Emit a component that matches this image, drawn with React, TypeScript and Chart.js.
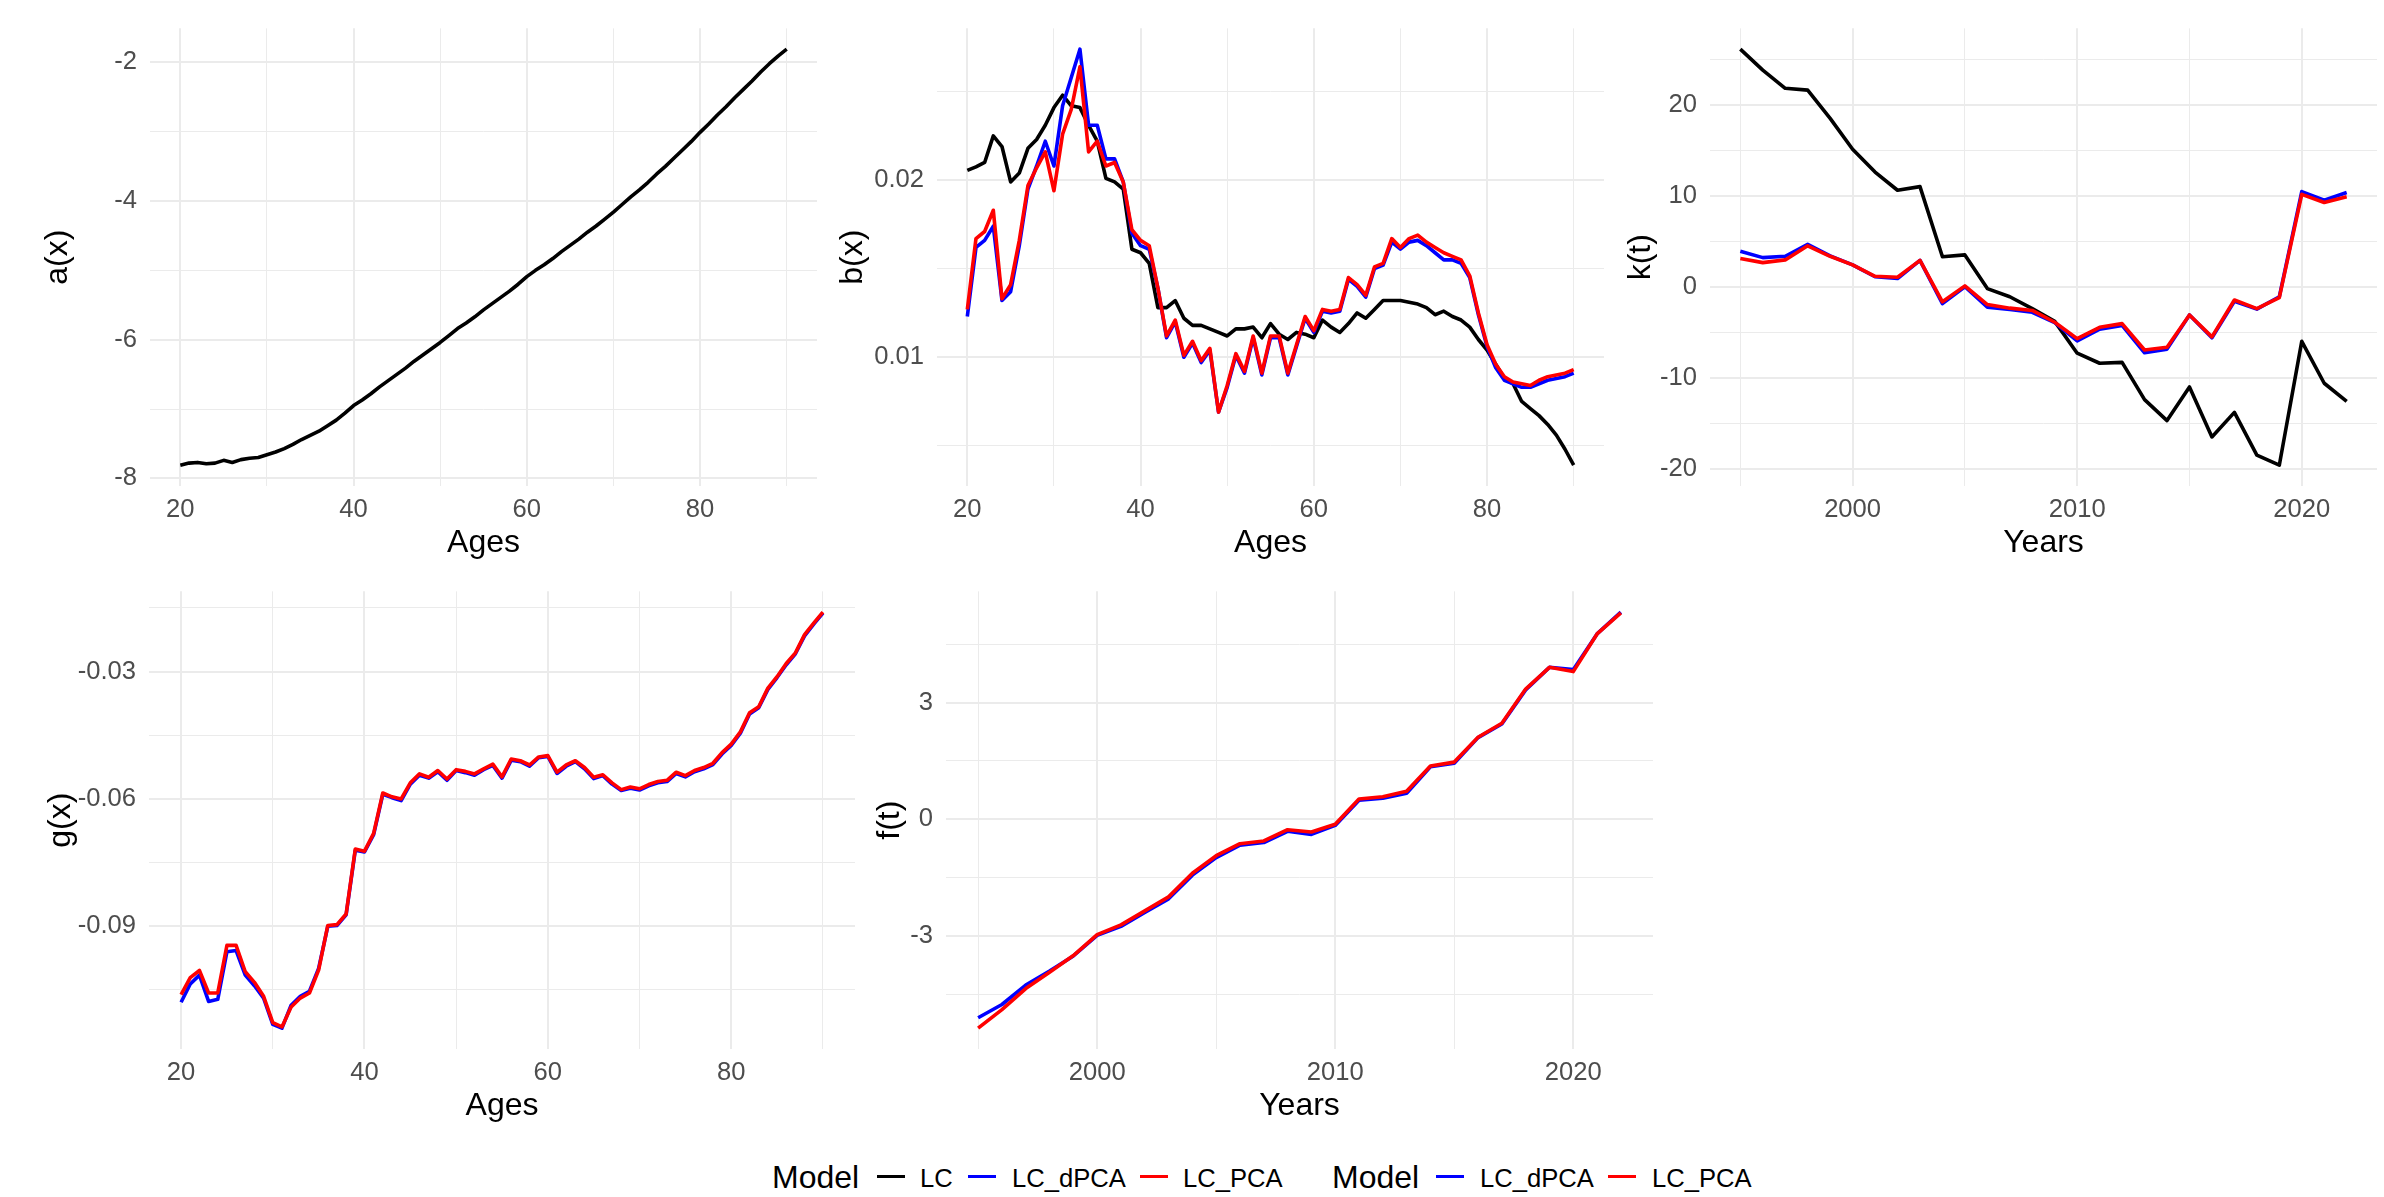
import React, { useEffect, useRef } from "react";
import { Chart, registerables } from "chart.js";
Chart.register(...registerables);

const FONT = '"Liberation Sans", Arial, Helvetica, sans-serif';
const TICK_COLOR = "#4D4D4D";
const GRID_COLOR = "#EBEBEB";

// ---------- categories ----------
const AGES = [20, 21, 22, 23, 24, 25, 26, 27, 28, 29, 30, 31, 32, 33, 34, 35, 36, 37, 38, 39, 40, 41, 42, 43, 44, 45, 46, 47, 48, 49, 50, 51, 52, 53, 54, 55, 56, 57, 58, 59, 60, 61, 62, 63, 64, 65, 66, 67, 68, 69, 70, 71, 72, 73, 74, 75, 76, 77, 78, 79, 80, 81, 82, 83, 84, 85, 86, 87, 88, 89, 90];
const YEARS = [1995, 1996, 1997, 1998, 1999, 2000, 2001, 2002, 2003, 2004, 2005, 2006, 2007, 2008, 2009, 2010, 2011, 2012, 2013, 2014, 2015, 2016, 2017, 2018, 2019, 2020, 2021, 2022];

// ---------- series ----------
const A_LC = [-7.81, -7.78, -7.77, -7.79, -7.78, -7.74, -7.77, -7.73, -7.71, -7.70, -7.66, -7.62, -7.57, -7.51, -7.44, -7.38, -7.32, -7.24, -7.16, -7.06, -6.95, -6.87, -6.78, -6.68, -6.59, -6.50, -6.41, -6.31, -6.22, -6.13, -6.04, -5.94, -5.84, -5.76, -5.67, -5.57, -5.48, -5.39, -5.30, -5.20, -5.09, -5.00, -4.92, -4.83, -4.73, -4.64, -4.55, -4.45, -4.36, -4.26, -4.16, -4.05, -3.94, -3.84, -3.73, -3.61, -3.50, -3.38, -3.26, -3.14, -3.01, -2.89, -2.76, -2.64, -2.51, -2.39, -2.27, -2.14, -2.02, -1.91, -1.81];

const B_LC = [0.02055, 0.02075, 0.0210, 0.0225, 0.0219, 0.0199, 0.0204, 0.0218, 0.0223, 0.0231,
  0.0241, 0.0248, 0.0242, 0.0241, 0.0231, 0.0222, 0.0201, 0.0199, 0.0195, 0.0161,
  0.0159, 0.0153, 0.0128, 0.0128, 0.0132, 0.0122, 0.0118, 0.0118, 0.0116, 0.0114,
  0.0112, 0.0116, 0.0116, 0.0117, 0.0111, 0.0119, 0.0113, 0.0110, 0.0114, 0.0113,
  0.0111, 0.0121, 0.0117, 0.0114, 0.0119, 0.0125, 0.0122, 0.0127, 0.0132, 0.0132,
  0.0132, 0.0131, 0.0130, 0.0128, 0.0124, 0.0126, 0.0123, 0.0121, 0.0117, 0.0110,
  0.0104, 0.0096, 0.0088, 0.0085, 0.0075, 0.0071, 0.0067, 0.0062, 0.0056, 0.0048, 0.0039];
const B_DPCA = [0.0123, 0.0162, 0.0166, 0.0174, 0.0132, 0.0137, 0.0163, 0.0195, 0.0208, 0.0222,
  0.0208, 0.0242, 0.0258, 0.0274, 0.0231, 0.0231, 0.0212, 0.0212, 0.0199, 0.0170,
  0.0163, 0.0161, 0.0139, 0.0111, 0.0120, 0.0100, 0.0108, 0.0097, 0.0104, 0.0069,
  0.0083, 0.0101, 0.0091, 0.0111, 0.0090, 0.0111, 0.0111, 0.0090, 0.0106, 0.0122,
  0.0114, 0.0126, 0.0125, 0.0126, 0.0144, 0.0140, 0.0134, 0.0150, 0.0152, 0.0165,
  0.0161, 0.0165, 0.0166, 0.0163, 0.0159, 0.0155, 0.0155, 0.0153, 0.0145, 0.0124,
  0.0106, 0.0094, 0.0087, 0.0085, 0.0083, 0.0083, 0.0085, 0.0087, 0.0088, 0.0089, 0.0091];
const B_PCA = [0.0127, 0.0167, 0.0171, 0.0183, 0.0133, 0.0141, 0.0166, 0.0197, 0.0207, 0.0216,
  0.0194, 0.0226, 0.0240, 0.0264, 0.0216, 0.0222, 0.0208, 0.0210, 0.0199, 0.0172,
  0.0166, 0.0163, 0.0139, 0.0112, 0.0121, 0.0101, 0.0109, 0.0098, 0.0105, 0.0069,
  0.0084, 0.0102, 0.0092, 0.0112, 0.0091, 0.0112, 0.0112, 0.0091, 0.0107, 0.0123,
  0.0115, 0.0127, 0.0126, 0.0127, 0.0145, 0.0141, 0.0135, 0.0151, 0.0153, 0.0167,
  0.0162, 0.0167, 0.0169, 0.0165, 0.0162, 0.0159, 0.0157, 0.0155, 0.0146, 0.0125,
  0.0107, 0.0096, 0.0089, 0.0086, 0.0085, 0.0084, 0.0087, 0.0089, 0.0090, 0.0091, 0.0093];

const K_LC = [26.1, 23.8, 21.8, 21.6, 18.5, 15.1, 12.6, 10.6, 11.0, 3.3, 3.5, -0.2, -1.1, -2.4, -3.8, -7.3, -8.4, -8.3, -12.4, -14.7, -11.0, -16.5, -13.8, -18.5, -19.6, -6.0, -10.6, -12.6];
const K_DPCA = [3.9, 3.2, 3.35, 4.65, 3.4, 2.4, 1.1, 0.9, 2.9, -1.85, 0.0, -2.25, -2.5, -2.8, -3.95, -5.95, -4.65, -4.25, -7.25, -6.85, -3.1, -5.6, -1.6, -2.45, -1.1, 10.45, 9.5, 10.35];
const K_PCA = [3.1, 2.65, 2.95, 4.5, 3.35, 2.4, 1.15, 1.05, 2.9, -1.65, 0.1, -1.95, -2.35, -2.6, -3.9, -5.7, -4.45, -4.05, -6.95, -6.65, -3.1, -5.5, -1.45, -2.4, -1.2, 10.15, 9.25, 9.9];

const G_DPCA = [-0.1079, -0.1036, -0.1015, -0.1077, -0.1072, -0.0960, -0.0957, -0.1015, -0.1040, -0.1069,
  -0.1131, -0.1140, -0.1086, -0.1065, -0.1053, -0.0999, -0.0900, -0.0898, -0.0873, -0.0721,
  -0.0725, -0.0684, -0.0589, -0.0597, -0.0604, -0.0565, -0.0544, -0.0551, -0.0536, -0.0556,
  -0.0533, -0.0538, -0.0544, -0.0531, -0.0521, -0.0551, -0.0509, -0.0512, -0.0523, -0.0503,
  -0.0500, -0.0540, -0.0523, -0.0512, -0.0529, -0.0552, -0.0545, -0.0565, -0.0580, -0.0575,
  -0.0579, -0.0569, -0.0562, -0.0559, -0.0540, -0.0548, -0.0536, -0.0529, -0.0519, -0.0494,
  -0.0474, -0.0445, -0.0400, -0.0385, -0.0342, -0.0314, -0.0284, -0.0258, -0.0216, -0.0188, -0.0162];
const G_PCA = [-0.1061, -0.1021, -0.1004, -0.1057, -0.1057, -0.0945, -0.0945, -0.1007, -0.1032, -0.1065,
  -0.1127, -0.1137, -0.1090, -0.1069, -0.1057, -0.1003, -0.0898, -0.0896, -0.0871, -0.0718,
  -0.0723, -0.0681, -0.0586, -0.0595, -0.0600, -0.0562, -0.0541, -0.0549, -0.0533, -0.0553,
  -0.0531, -0.0535, -0.0541, -0.0529, -0.0518, -0.0548, -0.0506, -0.0510, -0.0520, -0.0501,
  -0.0498, -0.0537, -0.0520, -0.0510, -0.0526, -0.0549, -0.0543, -0.0562, -0.0578, -0.0572,
  -0.0576, -0.0566, -0.0559, -0.0556, -0.0537, -0.0545, -0.0533, -0.0526, -0.0516, -0.0491,
  -0.0471, -0.0442, -0.0397, -0.0383, -0.0339, -0.0312, -0.0281, -0.0256, -0.0213, -0.0186, -0.0160];

const F_DPCA = [-5.11, -4.77, -4.27, -3.91, -3.52, -2.99, -2.76, -2.40, -2.05, -1.44, -0.99, -0.67, -0.60, -0.31, -0.39, -0.16, 0.49, 0.54, 0.67, 1.35, 1.44, 2.10, 2.45, 3.33, 3.91, 3.85, 4.77, 5.33];
const F_PCA = [-5.38, -4.90, -4.36, -3.94, -3.51, -2.97, -2.72, -2.36, -2.00, -1.39, -0.94, -0.63, -0.56, -0.27, -0.33, -0.13, 0.52, 0.58, 0.72, 1.37, 1.47, 2.11, 2.47, 3.35, 3.91, 3.80, 4.77, 5.31];

// ---------- ticks ----------
const AGE_MAJOR = [20, 40, 60, 80];
const AGE_MINOR = [30, 50, 70, 90];
const AGE_LABELS = ["20", "40", "60", "80"];
const YEAR_MAJOR = [2000, 2010, 2020];
const YEAR_MINOR = [1995, 2005, 2015];
const YEAR_LABELS = ["2000", "2010", "2020"];
const A_MAJOR = [-8, -6, -4, -2];
const A_MINOR = [-7, -5, -3];
const A_LABELS = ["-8", "-6", "-4", "-2"];
const B_MAJOR = [0.01, 0.02];
const B_MINOR = [0.005, 0.015, 0.025];
const B_LABELS = ["0.01", "0.02"];
const K_MAJOR = [-20, -10, 0, 10, 20];
const K_MINOR = [-15, -5, 5, 15, 25];
const K_LABELS = ["-20", "-10", "0", "10", "20"];
const G_MAJOR = [-0.09, -0.06, -0.03];
const G_MINOR = [-0.105, -0.075, -0.045, -0.015];
const G_LABELS = ["-0.09", "-0.06", "-0.03"];
const F_MAJOR = [-3, 0, 3];
const F_MINOR = [-4.5, -1.5, 1.5, 4.5];
const F_LABELS = ["-3", "0", "3"];

const C_LC = "#000000";
const C_DPCA = "#0000FF";
const C_PCA = "#FF0000";

type Series = { label: string; color: string; values: number[] };
type Geo = { left: number; top: number; width: number; height: number; yW: number; yTitlePad: number; xH: number; padTop: number };

const near = (a: number, b: number) => Math.abs(a - b) < 1e-9;

function makeScale(major: number[], minor: number[], labels: string[], lo: number, hi: number) {
  const all = [...major, ...minor].sort((p, q) => p - q);
  return {
    type: "linear" as const,
    min: lo,
    max: hi,
    afterBuildTicks: (s: any) => {
      s.ticks = all.map((v) => ({ value: v }));
    },
    ticks: {
      autoSkip: false,
      maxRotation: 0,
      color: TICK_COLOR,
      font: { family: FONT, size: 25.6 },
      callback: (v: any) => {
        const i = major.findIndex((m) => near(m, Number(v)));
        return i >= 0 ? labels[i] : "";
      },
    },
    grid: {
      drawTicks: false,
      color: GRID_COLOR,
      lineWidth: (ctx: any) => (ctx.tick && major.some((m) => near(m, ctx.tick.value)) ? 2 : 1),
    },
    border: { display: false },
  };
}

function Panel(props: {
  geo: Geo;
  xs: number[];
  series: Series[];
  xMajor: number[]; xMinor: number[]; xLabels: string[];
  yMajor: number[]; yMinor: number[]; yLabels: string[];
  xTitle: string; yTitle: string;
}) {
  const ref = useRef<HTMLCanvasElement>(null);
  const { geo } = props;
  useEffect(() => {
    const { xs, series } = props;
    const all = series.flatMap((s) => s.values);
    const ymin = Math.min(...all), ymax = Math.max(...all);
    const yr = ymax - ymin;
    const xmin = Math.min(...xs), xmax = Math.max(...xs);
    const xr = xmax - xmin;
    const xScale: any = makeScale(props.xMajor, props.xMinor, props.xLabels, xmin - 0.05 * xr, xmax + 0.05 * xr);
    xScale.ticks.padding = 9;
    xScale.title = { display: true, text: props.xTitle, color: "#000", font: { family: FONT, size: 32 }, padding: { top: 0, bottom: 0 } };
    xScale.afterFit = (s: any) => { s.height = geo.xH; };
    const yScale: any = makeScale(props.yMajor, props.yMinor, props.yLabels, ymin - 0.05 * yr, ymax + 0.05 * yr);
    yScale.ticks.padding = 13;
    yScale.title = { display: true, text: props.yTitle, color: "#000", font: { family: FONT, size: 32 }, padding: { top: geo.yTitlePad, bottom: 0 } };
    yScale.afterFit = (s: any) => { s.width = geo.yW; };
    const n = series.length;
    const chart = new Chart(ref.current as HTMLCanvasElement, {
      type: "line",
      data: {
        datasets: series.map((s, i) => ({
          label: s.label,
          data: xs.map((x, j) => ({ x, y: s.values[j] })),
          borderColor: s.color,
          backgroundColor: s.color,
          borderWidth: 3.6,
          pointRadius: 0,
          pointHoverRadius: 0,
          tension: 0,
          fill: false,
          borderJoinStyle: "round",
          borderCapStyle: "butt",
          order: n - i,
        })),
      },
      options: {
        animation: false,
        responsive: false,
        maintainAspectRatio: false,
        devicePixelRatio: 1,
        layout: { padding: { top: geo.padTop, left: 0, right: 0, bottom: 0 } },
        plugins: { legend: { display: false }, tooltip: { enabled: false } },
        events: [],
        scales: { x: xScale, y: yScale },
      } as any,
    });
    return () => chart.destroy();
  }, []);
  return (
    <canvas
      ref={ref}
      width={geo.width}
      height={geo.height}
      style={{ position: "absolute", left: geo.left, top: geo.top, width: geo.width, height: geo.height }}
    />
  );
}

function LegendKey({ x, y, color }: { x: number; y: number; color: string }) {
  return <div style={{ position: "absolute", left: x, top: y - 1.5, width: 28, height: 3, background: color }} />;
}
function LegendText({ x, y, text, size }: { x: number; y: number; text: string; size: number }) {
  return (
    <div style={{ position: "absolute", left: x, top: y - 20, height: 40, lineHeight: "40px", fontSize: size, fontFamily: FONT, color: "#000", whiteSpace: "nowrap" }}>
      {text}
    </div>
  );
}

export default function App() {
  return (
    <div style={{ position: "absolute", left: 0, top: 0, width: 2384, height: 1197, background: "#FFFFFF", overflow: "hidden" }}>
      <Panel
        geo={{ left: 0, top: 0, width: 817, height: 562, yW: 150, yTitlePad: 38.8, xH: 76, padTop: 20 }}
        xs={AGES}
        series={[{ label: "LC", color: C_LC, values: A_LC }]}
        xMajor={AGE_MAJOR} xMinor={AGE_MINOR} xLabels={AGE_LABELS}
        yMajor={A_MAJOR} yMinor={A_MINOR} yLabels={A_LABELS}
        xTitle="Ages" yTitle="a(x)"
      />
      <Panel
        geo={{ left: 820, top: 0, width: 784, height: 562, yW: 117, yTitlePad: 13.8, xH: 76, padTop: 20 }}
        xs={AGES}
        series={[
          { label: "LC", color: C_LC, values: B_LC },
          { label: "LC_dPCA", color: C_DPCA, values: B_DPCA },
          { label: "LC_PCA", color: C_PCA, values: B_PCA },
        ]}
        xMajor={AGE_MAJOR} xMinor={AGE_MINOR} xLabels={AGE_LABELS}
        yMajor={B_MAJOR} yMinor={B_MINOR} yLabels={B_LABELS}
        xTitle="Ages" yTitle="b(x)"
      />
      <Panel
        geo={{ left: 1610, top: 0, width: 767, height: 562, yW: 100, yTitlePad: 11.8, xH: 76, padTop: 20 }}
        xs={YEARS}
        series={[
          { label: "LC", color: C_LC, values: K_LC },
          { label: "LC_dPCA", color: C_DPCA, values: K_DPCA },
          { label: "LC_PCA", color: C_PCA, values: K_PCA },
        ]}
        xMajor={YEAR_MAJOR} xMinor={YEAR_MINOR} xLabels={YEAR_LABELS}
        yMajor={K_MAJOR} yMinor={K_MINOR} yLabels={K_LABELS}
        xTitle="Years" yTitle="k(t)"
      />
      <Panel
        geo={{ left: 0, top: 563, width: 855, height: 562, yW: 149, yTitlePad: 41.8, xH: 76, padTop: 20 }}
        xs={AGES}
        series={[
          { label: "LC_dPCA", color: C_DPCA, values: G_DPCA },
          { label: "LC_PCA", color: C_PCA, values: G_PCA },
        ]}
        xMajor={AGE_MAJOR} xMinor={AGE_MINOR} xLabels={AGE_LABELS}
        yMajor={G_MAJOR} yMinor={G_MINOR} yLabels={G_LABELS}
        xTitle="Ages" yTitle="g(x)"
      />
      <Panel
        geo={{ left: 860, top: 563, width: 793, height: 562, yW: 86, yTitlePad: 10.8, xH: 76, padTop: 20 }}
        xs={YEARS}
        series={[
          { label: "LC_dPCA", color: C_DPCA, values: F_DPCA },
          { label: "LC_PCA", color: C_PCA, values: F_PCA },
        ]}
        xMajor={YEAR_MAJOR} xMinor={YEAR_MINOR} xLabels={YEAR_LABELS}
        yMajor={F_MAJOR} yMinor={F_MINOR} yLabels={F_LABELS}
        xTitle="Years" yTitle="f(t)"
      />
      <LegendText x={772} y={1177} text="Model" size={32} />
      <LegendKey x={877} y={1176} color={C_LC} />
      <LegendText x={920} y={1178} text="LC" size={25.6} />
      <LegendKey x={968} y={1176} color={C_DPCA} />
      <LegendText x={1012} y={1178} text="LC_dPCA" size={25.6} />
      <LegendKey x={1140} y={1176} color={C_PCA} />
      <LegendText x={1183} y={1178} text="LC_PCA" size={25.6} />
      <LegendText x={1332} y={1177} text="Model" size={32} />
      <LegendKey x={1436} y={1176} color={C_DPCA} />
      <LegendText x={1480} y={1178} text="LC_dPCA" size={25.6} />
      <LegendKey x={1608} y={1176} color={C_PCA} />
      <LegendText x={1652} y={1178} text="LC_PCA" size={25.6} />
    </div>
  );
}
